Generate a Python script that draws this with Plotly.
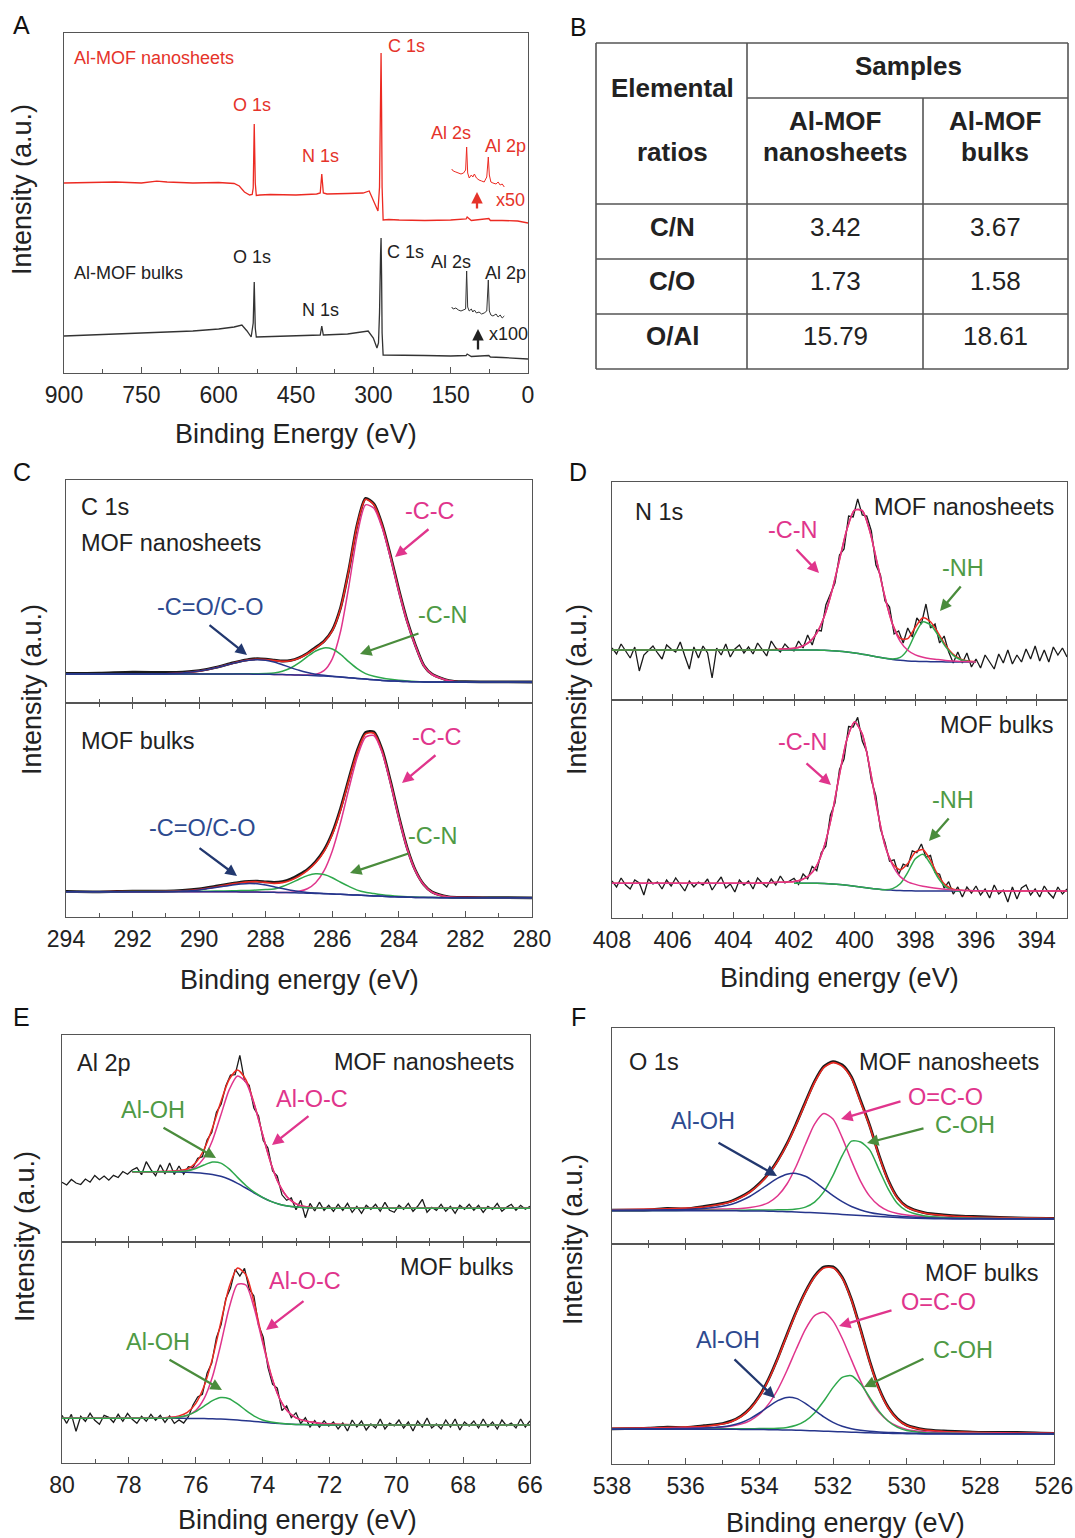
import numpy as np
import plotly.graph_objects as go

W, H = 1075, 1538
FONT = "Liberation Sans, Arial, Helvetica, sans-serif"
AXC = "#555555"
BLK = "#1a1a1a"
RED = "#ec2a22"
PINK = "#e0358c"
GRN = "#2ea84c"
NAVY = "#26358c"
GRN_T = "#4f9a45"
NAVY_T = "#2d4a8f"
GRN_A = "#4a8c3c"
NAVY_A = "#22386f"

# ---------------- Panel A : survey spectra ----------------
A_red_x = [900, 850, 800, 750, 720, 700, 650, 600, 570, 560, 550, 540, 535, 533, 531, 529, 527, 520, 500, 450,
           410, 403, 400, 397, 390, 350, 320, 308, 300, 295, 291, 288, 286, 285, 284, 283, 281, 270, 250, 200,
           150, 120, 118, 110, 76, 73, 50, 20, 0]
A_red_y = [190, 190.5, 191, 190, 191.8, 191, 190, 190.5, 189.5, 187, 181, 178, 178.5, 185, 249, 190, 177.5, 178, 178.5, 178,
           179, 180, 199, 180, 179, 179.5, 180, 182, 173, 166, 162, 186, 285, 320, 265, 186, 153, 153.5, 153, 152.5,
           153, 154, 156, 152.5, 154.5, 152.5, 152.5, 152, 150]
A_blk_x = [900, 850, 800, 750, 700, 650, 600, 570, 555, 545, 537, 533, 531, 529, 527, 500, 450, 410, 403, 400,
           397, 350, 320, 310, 300, 293, 290, 288, 286, 285, 284, 283, 281, 250, 200, 150, 120, 118, 110, 76,
           73, 50, 20, 0]
A_blk_y = [37, 38, 39, 40, 41, 42, 44, 46, 48, 42, 36, 50, 91, 45, 36, 36.5, 37, 37.5, 38, 47,
           38, 39, 41, 42, 35, 25, 30, 60, 118, 135, 98, 40, 18, 18, 17.5, 17, 17.5, 19, 16.5, 17.5,
           16, 15.5, 15, 14]
A_inset_x = [148, 145, 140, 135, 130, 125, 121, 119, 117, 114, 110, 107, 104, 100, 95, 90, 85, 80, 77, 75,
             72, 68, 62, 58, 54, 50, 46]
A_red_inset_y = [204, 202, 201, 200, 199, 200, 203, 226, 200, 195, 198, 196, 199, 195, 193, 192, 191, 196, 216, 198,
                 191, 190, 189, 191, 188, 189, 186]
A_blk_inset_y = [66, 64, 65, 63, 62, 63, 64, 102, 66, 62, 64, 61, 63, 60, 61, 59, 60, 62, 93, 62,
                 58, 57, 59, 56, 58, 55, 57]

# ---------------- Panel B : table ----------------
B_ratios = ["C/N", "C/O", "O/Al"]
B_nanosheets = ["3.42", "1.73", "15.79"]
B_bulks = ["3.67", "1.58", "18.61"]

# ---------------- Panel C : C 1s ----------------
C_ev = [294, 293, 292, 291, 290.5, 290, 289.5, 289, 288.75, 288.5, 288.25, 288, 287.75, 287.5, 287.25, 287,
        286.75, 286.5, 286.25, 286, 285.75, 285.5, 285.25, 285, 284.75, 284.5, 284.25, 284, 283.75, 283.5,
        283.25, 283, 282.5, 282, 281, 280]
C_nano_base = [29, 29, 29, 29, 29, 29, 29, 29, 29, 28.9, 28.8, 28.7, 28.6, 28.4, 28.2, 28, 27.7, 27.3, 26.9, 26.4,
               25.9, 25.3, 24.6, 23.9, 23.2, 22.6, 22.1, 21.7, 21.4, 21.2, 21.1, 21, 21, 21, 21, 21]
C_nano_co = [0, 0, 0, 0.3, 1.0, 2.9, 6.2, 10.5, 12.5, 13.9, 14.5, 14.05, 12.4, 9.9, 7.2, 4.7, 2.8, 1.5, 0.74, 0.33,
             0.13, 0.05, 0, 0, 0, 0, 0, 0, 0, 0, 0, 0, 0, 0, 0, 0]
C_nano_cn = [0, 0, 0, 0, 0, 0, 0, 0.1, 0.2, 0.3, 0.5, 0.8, 1.4, 3.3, 6.8, 12.1, 18.6, 24.7, 28.2, 27.6,
             22.8, 15.8, 9.8, 5.5, 3.5, 2.4, 1.6, 1.0, 0.6, 0.3, 0.1, 0, 0, 0, 0, 0]
C_nano_cc = [0, 0, 0, 0, 0, 0, 0, 0, 0, 0, 0, 0, 0, 0, 0, 0, 0.2, 1.3, 5.4, 17.8,
             45.8, 91.9, 143.4, 174.3, 171.6, 152.3, 122.7, 89.5, 59.3, 35.5, 16, 7.5, 1.3, 0.1, 0, 0]
C_nano_data = [29.5, 29.8, 30.8, 30.6, 30.9, 32.4, 35.6, 40.1, 41.9, 43.6, 44.3, 43.8, 42.9, 42.0, 42.6, 45.3,
               49.6, 55.5, 61.8, 72.9, 95.4, 133.8, 178.6, 204.6, 199.2, 178.1, 147.2, 113.1, 82.1, 57.6,
               37.6, 28.8, 22.5, 21.3, 21.2, 21.0]
C_bulk_base = [25.3, 25.3, 25.3, 25.3, 25.3, 25.3, 25.3, 25.2, 25.1, 25, 24.9, 24.8, 24.65, 24.5, 24.3, 24.1,
               23.85, 23.6, 23.3, 23, 22.65, 22.3, 21.9, 21.5, 21.1, 20.7, 20.35, 20, 19.8, 19.6, 19.5, 19.4,
               19.3, 19.3, 19.3, 19.3]
C_bulk_co = [0, 0, 0, 0.1, 0.6, 1.8, 4.1, 6.9, 7.9, 8.5, 8.3, 7.2, 5.7, 3.9, 2.4, 1.4, 0.7, 0.35, 0.15, 0.05,
             0, 0, 0, 0, 0, 0, 0, 0, 0, 0, 0, 0, 0, 0, 0, 0]
C_bulk_cn = [0, 0, 0.1, 0.2, 0.3, 0.4, 0.6, 1.0, 1.3, 1.6, 2.1, 2.6, 3.3, 6.0, 9.6, 13.7, 17.5, 19.6, 19.1, 16.3,
             12.1, 8.3, 5, 3.2, 2.3, 1.6, 1.1, 0.8, 0.5, 0.3, 0.2, 0.1, 0, 0, 0, 0]
C_bulk_cc = [0, 0, 0, 0, 0, 0, 0, 0, 0, 0, 0, 0, 0, 0, 0.5, 1.6, 4.4, 10.7, 22.8, 43.1,
             72.1, 106.2, 138, 158.4, 160.4, 143.4, 113, 78.7, 48.3, 26.2, 12.5, 5.3, 0.7, 0.1, 0, 0]
C_bulk_data = [25.6, 25.2, 25.9, 25.8, 26.6, 28.2, 30.8, 33.6, 34.9, 35.6, 35.9, 35.2, 34.6, 35.5, 38.0, 42.3,
               47.5, 55.4, 66.8, 84.0, 108.6, 138.4, 166.5, 184.6, 185.0, 167.0, 135.6, 100.4, 69.2, 46.5,
               32.4, 25.0, 20.2, 19.6, 19.4, 19.2]

# ---------------- Panel D : N 1s ----------------
D_ev = [408, 407, 406, 405, 404, 403, 402.5, 402, 401.75, 401.5, 401.25, 401, 400.75, 400.5, 400.25, 400,
        399.75, 399.5, 399.25, 399, 398.75, 398.5, 398.25, 398, 397.75, 397.5, 397.25, 397, 396.75, 396.5,
        396.25, 396, 395, 394, 393]
D_nano_base = [50, 50, 50, 50, 50, 50, 50, 50, 50, 50, 49.9, 49.7, 49.3, 48.8, 48, 47, 45.8, 44.5, 43.1, 41.8,
               40.6, 39.7, 39.1, 38.7, 38.5, 38.3, 38.2, 38.1, 38.05, 38, 38, 38, None, None, None]
D_nano_cn = [None, None, None, None, None, None, 0.8, 1.7, 3.5, 7.8, 17, 34, 59.7, 91.5, 123.2, 143.1,
             143.5, 124.2, 92.9, 60.9, 34.9, 19, 10.7, 6.4, 4.2, 3, 2.2, 1.5, 1.0, 0.6, 0.3, 0.1, None, None, None]
D_nano_nh = [0, 0, 0, 0, 0, 0, 0, 0, 0, 0, 0, 0, 0, 0, 0, 0, 0, 0, 0, 0,
             0.4, 2.9, 11.6, 27.7, 39.6, 36.9, 26.7, 15, 6.6, 2.2, 0.6, 0.15, None, None, None]
D_nano_data = [52, 46, 56, 49, 42, 53, 29, 45, 50, 54, 47, 41, 55, 51, 48, 58, 44, 31, 53, 42,
               54, 47, 22, 52, 45, 56, 43, 51, 55, 47, 53, 46, 57, 50, 44, 59, 52, 48, 56, 51,
               49, 59, 52, 65, 55, 70, 69, 95, 107, 117, 145, 151, 184, 183, 201, 185, 184, 169, 135, 125,
               99, 93, 66, 69, 57, 72, 63, 82, 76, 96, 72, 76, 57, 64, 48, 37, 48, 37, 47, 33,
               41, 32, 45, 38, 31, 46, 37, 50, 36, 45, 38, 51, 41, 54, 39, 50, 38, 53, 45, 52, 43]
D_bulk_base = [34.7, 34.7, 34.7, 34.7, 34.7, 34.7, 34.7, 34.7, 34.7, 34.7, 34.65, 34.4, 34.0, 33.5, 32.7, 31.8,
               30.8, 29.8, 28.9, 28.2, 27.8, 27.4, 27.2, 27.1, 27, 27, 27, 27, 27, 27, 27, 27, 27, 27, 27]
D_bulk_cn = [0, 0, 0, 0, 0, 0.3, 1, 1.9, 3.6, 7.8, 17.8, 37.6, 69.2, 110, 146.6, 164.3, 153.2, 120, 78.8, 44.3,
             25, 14, 9, 6.5, 4.8, 3.5, 2.5, 1.7, 1.1, 0.7, 0.4, 0.2, 0, 0, 0]
D_bulk_nh = [None, None, None, None, None, None, None, 0, 0, 0, 0, 0, 0, 0, 0, 0, 0, 0, 0, 0,
             1.6, 6.8, 18.4, 32.2, 36.7, 27.1, 13.1, 4.1, 0.8, 0.1, None, None, None, None, None]
D_bulk_data = [37, 31, 40, 33, 29, 38, 35, 23, 39, 34, 36, 29, 38, 32, 40, 34, 27, 37, 31, 36,
               33, 39, 28, 35, 41, 30, 34, 26, 38, 33, 37, 29, 40, 35, 31, 39, 33, 42, 35, 37,
               39.6, 33.5, 44, 39.3, 51.6, 47.3, 65.4, 71.8, 103, 114.8, 148.5, 159, 191.5, 191, 200.6, 177, 166.2,
               137.7, 122.2, 88.8, 75.5, 56.8, 58.1, 43.5, 53.8, 51.6, 67.1, 65.3, 74, 60.7,
               62.6, 45.4, 43.8, 29.8, 36.3, 23.9, 31.1, 21, 31, 25, 32, 23, 29, 20, 33, 24, 28, 16, 31, 19,
               30, 33, 23, 29, 21, 32, 25, 20, 31, 24, 29]

# ---------------- Panel E : Al 2p ----------------
E_ev = [80, 79, 77.9, 77.5, 77, 76.75, 76.5, 76.25, 76, 75.75, 75.5, 75.25, 75, 74.75, 74.5, 74.25, 74, 73.75,
        73.5, 73.25, 73, 72.75, 72.5, 72.25, 72, 71, 70, 69, 68, 67, 66]
E_nano_base = [None, None, 70.3, 70.3, 70.2, 70.1, 70, 69.7, 69.3, 68.6, 67.5, 65.7, 62.7, 58.7, 54, 49, 44.5,
               40.6, 37.8, 36, 35, 34.4, 34, 33.8, 33.7, 33.7, 33.7, 33.7, 33.7, 33.7, 33.7]
E_nano_oh = [None, None, 0, 0, 0.1, 0.2, 0.4, 1.5, 4.2, 8.4, 12.4, 13.2, 10.4, 5.9, 2.5, 0.8, 0.2,
             0, 0, 0, 0, 0, 0, 0, 0, 0, 0, 0, 0, 0, 0]
E_nano_oc = [None, None, 0, 0, 0.2, 0.5, 1.0, 1.8, 5.8, 15.5, 34, 61, 89.4, 107.3, 105.8, 88.5, 63, 38,
             19.5, 8.5, 3.2, 1.0, 0.3, 0.1, 0, 0, 0, 0, 0, 0, 0]
E_nano_data = [59.7, 57, 62.5, 59, 57.5, 63, 59.8, 66.5, 62.3, 66, 61.8, 66.6, 64.5, 70.5, 67.8, 72,
               74.3, 67.3, 80.3, 72.3, 66.3, 77.2, 68.1, 79.1, 67.5, 76, 67.8, 75.3,
               74.4, 83.7, 85.3, 102, 109.6, 129.8, 137.8, 156, 166.8, 167.3,
               186.7, 161.2, 156.6, 134, 126, 101.4, 94, 71, 66, 47.2,
               41.7, 44, 32.2, 41.6, 24.3, 38.6, 31, 39.8, 31.7, 36.7,
               30.7, 37.7, 31.7, 38.7, 29.7, 35.7, 28.7, 36.7, 32.7, 37.7, 30.7, 39.7, 31.7, 29.7, 36.7, 32.7,
               38.7, 30.7, 35.7, 42.7, 29.7, 34.7, 31.7, 37.7, 30.7, 35.7, 28.7, 36.7, 32.7, 37.7, 31.7, 36.7,
               29.7, 35.7, 32.7, 38.7, 30.7, 34.7, 37.7, 31.7, 36.7, 32.7, 35.7]
E_bulk_base = [44.7, 44.7, 44.7, 44.7, 44.7, 44.7, 44.7, 44.6, 44.5, 44.4, 44.2, 43.9, 43.5, 42.9, 42.3, 41.6,
               40.8, 40.1, 39.5, 39, 38.6, 38.4, 38.2, 38.1, 38, 38, 38, 38, 38, 38, 38]
E_bulk_oh = [0, 0, 0, 0, 0.1, 0.3, 1.1, 3.1, 6.9, 12.4, 18.2, 21.6, 20.8, 16.2, 10.3, 5.3, 2.2, 0.8, 0.2,
             0, 0, 0, 0, 0, 0, 0, 0, 0, 0, 0, 0]
E_bulk_oc = [0, 0, 0, 0, 0.3, 0.7, 1.3, 3, 8, 19.9, 42, 74.8, 111.5, 135.8, 135.7, 113.1, 79.8, 48, 25.5,
             12.7, 6.6, 4, 2.5, 1.5, 0.9, 0.1, 0, 0, 0, 0, 0]
E_bulk_data = [47.7, 39.7, 48.7, 31.7, 46.7, 41.7, 49.7, 42.7, 38.7, 47.7, 45.7, 40.7, 48.7, 41.7, 49.7, 43.7,
               39.7, 46.7, 41.7, 48.7, 42.7, 47.7, 40.7, 47, 39.6,
               43.1, 40, 46.3, 58, 66, 68.6, 89.8, 100, 125.3, 138.5,
               164.3, 174.7, 193.7, 186.9, 194.7, 173.8, 167, 137.7, 125.9, 95.6,
               78.6, 75, 52.4, 57.1, 45.4, 50.2, 39.5, 45.2, 36.1, 42.4, 35.8, 42.2, 36.9,
               41, 34, 40, 32, 43, 36, 42, 33, 39, 35, 44, 34, 40, 37, 43, 35, 41, 32, 42, 36,
               45, 35, 39, 34, 43, 36, 44, 33, 41, 37, 42, 35, 44, 36, 41, 34, 43, 37, 40, 35, 44, 36, 42]

# ---------------- Panel F : O 1s ----------------
F_ev = [538, 537, 536.5, 536, 535.5, 535, 534.75, 534.5, 534.25, 534, 533.75, 533.5, 533.25, 533, 532.75,
        532.5, 532.25, 532, 531.75, 531.5, 531.25, 531, 530.75, 530.5, 530.25, 530, 529.5, 529, 528.5, 528,
        527, 526]
F_nano_base = [33.3, 33.3, 33.3, 33.3, 33.3, 33.3, 33.2, 33.1, 33.05, 33, 32.8, 32.6, 32.3, 32, 31.6, 31.2,
               30.7, 30.2, 29.6, 29, 28.4, 27.9, 27.4, 26.9, 26.5, 26.1, 25.5, 25.2, 25, 25, 25, 25]
F_nano_aloh = [0.45, 0.7, 0.9, 1.27, 2.1, 4.4, 6.6, 10.1, 14.7, 20.6, 27.1, 33.2, 37.5, 38.6, 36.1, 30.9,
               24.5, 18.1, 12.7, 8.5, 5.6, 3.7, 2.5, 1.9, 1.4, 1.1, 0.85, 0.66, 0.5, 0.4, 0.25, 0.2]
F_nano_oco = [0.4, 0.6, 0.74, 0.94, 1.23, 1.7, 2.0, 2.5, 3.4, 5.1, 8.6, 15.6, 27.7, 45.8, 67.9, 88.7,
              99.7, 94.7, 76.8, 54.4, 34.3, 19.7, 10.9, 6.2, 3.9, 2.8, 1.8, 1.3, 1.0, 0.77, 0.5, 0.36]
F_nano_coh = [0.17, 0.23, 0.28, 0.34, 0.43, 0.55, 0.63, 0.73, 0.86, 1.02, 1.23, 1.54, 2.0, 3.0, 5.3, 10.7,
              21.4, 38.4, 58.8, 73.9, 73.6, 66, 47, 28, 14, 7, 2.6, 1.4, 0.9, 0.65, 0.38, 0.25]
F_nano_data = [33.8, 34.2, 35.6, 35.1, 37.6, 40.6, 43.0, 47.2, 52.6, 60.5, 70.4, 83.8, 100.4, 120.3, 141.9,
               162.6, 177.4, 182.4, 179.0, 167.0, 143.2, 118.0, 88.6, 63.8, 46.5, 37.5, 31.2, 29.1, 27.9,
               27.4, 26.0, 25.5]
F_bulk_base = [34.7, 34.7, 34.7, 34.7, 34.7, 34.7, 34.65, 34.6, 34.55, 34.5, 34.35, 34.2, 34, 33.8, 33.5, 33.2,
               32.85, 32.5, 32.15, 31.8, 31.5, 31.2, 30.95, 30.7, 30.5, 30.3, 30.1, 30, 30, 30, 30, 30]
F_bulk_aloh = [0.29, 0.45, 0.58, 0.8, 1.2, 2.5, 4.1, 6.7, 10.9, 16.5, 23.1, 29.1, 32.6, 31.8, 27.1, 20.7,
               14.3, 9.2, 5.6, 3.4, 2.2, 1.5, 1.1, 0.9, 0.75, 0.64, 0.49, 0.38, 0.3, 0.25, 0.18, 0.13]
F_bulk_oco = [0.48, 0.7, 0.87, 1.1, 1.5, 2.3, 3.3, 5.3, 8.9, 15.2, 25.5, 40.3, 59.5, 80.9, 101.2, 115.2,
              118.8, 110.6, 93.6, 72.3, 51.4, 33.8, 20.8, 12.3, 7.2, 4.3, 2.1, 1.4, 1.05, 0.83, 0.56, 0.4]
F_bulk_coh = [0.13, 0.19, 0.23, 0.28, 0.35, 0.46, 0.53, 0.62, 0.74, 0.88, 1.13, 1.6, 2.6, 4.9, 9.6, 17.9,
              30.1, 43.9, 54.5, 56.4, 48.4, 35.1, 21.9, 12.1, 6.2, 3.2, 1.25, 0.78, 0.56, 0.42, 0.26, 0.18]
F_bulk_data = [35.2, 35.8, 36.9, 36.4, 38.3, 40.5, 43.1, 47.9, 55.8, 67.9, 84.9, 106.0, 129.6, 152.3, 172.2,
               187.9, 197.0, 197.1, 186.8, 164.8, 134.4, 102.4, 75.5, 56.8, 45.3, 38.9, 34.3, 33.0, 32.4,
               31.6, 31.6, 30.5]


# =====================================================================
def a(v):
    return np.array(v, dtype=float)


def z(v):
    return np.nan_to_num(a(v))


def fx(p):
    return p / W


def fy(p):
    return 1 - p / H


fig = go.Figure()


def tr(x, y, i, color, width, spline=False):
    sfx = "" if i == 1 else str(i)
    line = dict(color=color, width=width)
    if spline:
        line["shape"] = "spline"
        line["smoothing"] = 0.7
    fig.add_trace(go.Scatter(x=a(x), y=a(y), mode="lines", line=line,
                             xaxis="x" + sfx, yaxis="y" + sfx,
                             hoverinfo="skip", showlegend=False))


# ---- A
tr(A_red_x, A_red_y, 1, RED, 1.3)
tr(A_inset_x, A_red_inset_y, 1, RED, 1.0)
tr(A_blk_x, A_blk_y, 1, "#333333", 1.3)
tr(A_inset_x, A_blk_inset_y, 1, "#333333", 1.0)

# ---- C
for i, (b, co, cn, cc, d) in zip([2, 3], [
        (C_nano_base, C_nano_co, C_nano_cn, C_nano_cc, C_nano_data),
        (C_bulk_base, C_bulk_co, C_bulk_cn, C_bulk_cc, C_bulk_data)]):
    tr(C_ev, d, i, BLK, 2.8, True)
    tr(C_ev, a(b) + a(co) + a(cn) + a(cc), i, RED, 1.6, True)
    tr(C_ev, a(b) + a(cc), i, PINK, 1.5, True)
    tr(C_ev, a(b) + a(cn), i, GRN, 1.5, True)
    tr(C_ev, a(b) + a(co), i, NAVY, 1.5, True)
    tr(C_ev, b, i, NAVY, 1.5, True)

# ---- D
D_grid = np.linspace(408, 393, len(D_nano_data))
tr(D_grid, D_nano_data, 4, BLK, 1.3)
tr(D_ev, D_nano_base, 4, NAVY, 1.5, True)
tr(D_ev, a(D_nano_base) + z(D_nano_cn) + a(D_nano_nh), 4, RED, 1.5, True)
tr(D_ev, a(D_nano_base) + a(D_nano_nh), 4, GRN, 1.5, True)
tr(D_ev, a(D_nano_base) + a(D_nano_cn), 4, PINK, 1.5, True)

D_grid2 = np.linspace(408, 393, len(D_bulk_data))
tr(D_grid2, D_bulk_data, 5, BLK, 1.3)
tr(D_ev, np.where(np.isnan(a(D_bulk_nh)), np.nan, a(D_bulk_base)), 5, NAVY, 1.5, True)
tr(D_ev, a(D_bulk_base) + a(D_bulk_cn) + z(D_bulk_nh), 5, RED, 1.5, True)
tr(D_ev, a(D_bulk_base) + a(D_bulk_nh), 5, GRN, 1.5, True)
tr(D_ev, a(D_bulk_base) + a(D_bulk_cn), 5, PINK, 1.5, True)

# ---- E
for i, (b, oh, oc, d) in zip([6, 7], [
        (E_nano_base, E_nano_oh, E_nano_oc, E_nano_data),
        (E_bulk_base, E_bulk_oh, E_bulk_oc, E_bulk_data)]):
    g = np.linspace(80, 66, len(d))
    tr(g, d, i, BLK, 1.3)
    tr(E_ev, b, i, NAVY, 1.5, True)
    tr(E_ev, a(b) + a(oh) + a(oc), i, RED, 1.5, True)
    tr(E_ev, a(b) + a(oc), i, PINK, 1.5, True)
    tr(E_ev, a(b) + a(oh), i, GRN, 1.5, True)

# ---- F
for i, (b, al, oco, coh, d) in zip([8, 9], [
        (F_nano_base, F_nano_aloh, F_nano_oco, F_nano_coh, F_nano_data),
        (F_bulk_base, F_bulk_aloh, F_bulk_oco, F_bulk_coh, F_bulk_data)]):
    tr(F_ev, d, i, BLK, 2.8, True)
    tr(F_ev, a(b) + a(al) + a(oco) + a(coh), i, RED, 1.6, True)
    tr(F_ev, a(b) + a(oco), i, PINK, 1.5, True)
    tr(F_ev, a(b) + a(coh), i, GRN, 1.5, True)
    tr(F_ev, a(b) + a(al), i, NAVY, 1.5, True)
    tr(F_ev, b, i, NAVY, 1.5, True)

# =====================================================================
layout = dict(width=W, height=H, margin=dict(l=0, r=0, t=0, b=0, pad=0, autoexpand=False), autosize=False,
              paper_bgcolor="white", plot_bgcolor="white", showlegend=False,
              font=dict(family=FONT, color="#222222"))


def axes(i, x0, x1, top, bot, rng, dtick, mdtick, labels, mirror):
    sfx = "" if i == 1 else str(i)
    layout["xaxis" + sfx] = dict(
        domain=[fx(x0), fx(x1)], range=rng, anchor="y" + sfx,
        showline=True, linecolor=AXC, linewidth=1.4, mirror=mirror,
        ticks="inside", ticklen=6, tickwidth=1.3, tickcolor=AXC,
        tick0=0, dtick=dtick, showticklabels=labels, ticklabelstandoff=1,
        tickfont=dict(size=23, color="#222222", family=FONT),
        showgrid=False, zeroline=False, automargin=False,
        minor=dict(dtick=mdtick, ticks="inside", ticklen=4, tickwidth=1.2, tickcolor=AXC, showgrid=False))
    layout["yaxis" + sfx] = dict(
        domain=[fy(bot), fy(top)], range=[0, bot - top], anchor="x" + sfx,
        showline=True, linecolor=AXC, linewidth=1.4, mirror=True, automargin=False,
        ticks="", showticklabels=False, showgrid=False, zeroline=False)


axes(1, 64, 528, 33, 373, [900, 0], 150, 75, True, True)
axes(2, 66, 532, 480, 703, [294, 280], 2, 1, False, True)
axes(3, 66, 532, 703, 917, [294, 280], 2, 1, True, "ticks")
axes(4, 612, 1067, 482, 700, [408, 393], 2, 1, False, True)
axes(5, 612, 1067, 700, 918, [408, 393], 2, 1, True, "ticks")
axes(6, 62, 530, 1035, 1242, [80, 66], 2, 1, False, True)
axes(7, 62, 530, 1242, 1463, [80, 66], 2, 1, True, "ticks")
axes(8, 612, 1054, 1028, 1244, [538, 526], 2, 1, False, True)
axes(9, 612, 1054, 1244, 1464, [538, 526], 2, 1, True, "ticks")

ann = []


def txt(x, y, s, size=23.5, color="#222222", xa="center", angle=0):
    ann.append(dict(x=fx(x), y=fy(y), xref="paper", yref="paper", text=s, showarrow=False,
                    xanchor=xa, yanchor="middle", textangle=angle,
                    font=dict(size=size, color=color, family=FONT)))


def arrow(x0, y0, x1, y1, color):
    ann.append(dict(x=fx(x1), y=fy(y1), xref="paper", yref="paper", text="",
                    showarrow=True, axref="pixel", ayref="pixel", ax=x0 - x1, ay=y0 - y1,
                    arrowhead=2, arrowsize=1.0, arrowwidth=2.3, arrowcolor=color))


L = 23.5  # in-panel label size

# panel letters
for s, x, y in [("A", 22, 25), ("B", 578, 27), ("C", 22, 472), ("D", 578, 472), ("E", 22, 1017), ("F", 578, 1017)]:
    txt(x, y, s, size=25, color="#111111")

# axis titles
for x, y in [(22, 190), (32, 690), (577, 690), (25, 1237), (573, 1240)]:
    txt(x, y, "Intensity (a.u.)", size=27, angle=-90)
txt(296, 434, "Binding Energy (eV)", size=27)
txt(299, 980, "Binding energy (eV)", size=27)
txt(839, 978, "Binding energy (eV)", size=27)
txt(297, 1520, "Binding energy (eV)", size=27)
txt(845, 1523, "Binding energy (eV)", size=27)

# panel A labels
ARED = "#e5332a"
txt(72, 58, "Al-MOF nanosheets", 18, ARED, "left")
txt(252, 105, "O 1s", 18, ARED)
txt(320, 156, "N 1s", 18, ARED)
txt(406, 46, "C 1s", 18, ARED)
txt(451, 133, "Al 2s", 18, ARED)
txt(505, 146, "Al 2p", 18, ARED)
txt(510, 200, "x50", 18, ARED)
arrow(477, 210, 477, 192, ARED)
txt(72, 273, "Al-MOF bulks", 18, "#222222", "left")
txt(252, 257, "O 1s", 18)
txt(320, 310, "N 1s", 18)
txt(405, 252, "C 1s", 18)
txt(451, 262, "Al 2s", 18)
txt(505, 273, "Al 2p", 18)
txt(508, 334, "x100", 18)
arrow(478, 351, 478, 329, "#222222")

# panel C labels
txt(79, 507, "C 1s", L, xa="left")
txt(79, 543, "MOF nanosheets", L, xa="left")
txt(430, 511, "-C-C", L, PINK)
arrow(430, 528, 395, 557, PINK)
txt(443, 615, "-C-N", L, GRN_T)
arrow(420, 633, 360, 654, GRN_A)
txt(210, 607, "-C=O/C-O", L, NAVY_T)
arrow(208, 624, 247, 655, NAVY_A)
txt(79, 741, "MOF bulks", L, xa="left")
txt(437, 737, "-C-C", L, PINK)
arrow(437, 754, 402, 783, PINK)
txt(433, 836, "-C-N", L, GRN_T)
arrow(410, 853, 350, 873, GRN_A)
txt(202, 828, "-C=O/C-O", L, NAVY_T)
arrow(198, 847, 237, 876, NAVY_A)

# panel D labels
txt(633, 512, "N 1s", L, xa="left")
txt(1056, 507, "MOF nanosheets", L, xa="right")
txt(793, 530, "-C-N", L, PINK)
arrow(795, 548, 819, 573, PINK)
txt(963, 568, "-NH", L, GRN_T)
arrow(962, 585, 940, 611, GRN_A)
txt(1056, 725, "MOF bulks", L, xa="right")
txt(803, 742, "-C-N", L, PINK)
arrow(805, 762, 831, 785, PINK)
txt(953, 800, "-NH", L, GRN_T)
arrow(950, 817, 929, 841, GRN_A)

# panel E labels
txt(75, 1063, "Al 2p", L, xa="left")
txt(516, 1062, "MOF nanosheets", L, xa="right")
txt(153, 1110, "Al-OH", L, GRN_T)
arrow(162, 1127, 216, 1158, GRN_A)
txt(312, 1099, "Al-O-C", L, PINK)
arrow(310, 1115, 272, 1145, PINK)
txt(516, 1267, "MOF bulks", L, xa="right")
txt(305, 1281, "Al-O-C", L, PINK)
arrow(305, 1300, 266, 1330, PINK)
txt(158, 1342, "Al-OH", L, GRN_T)
arrow(168, 1359, 222, 1390, GRN_A)

# panel F labels
txt(627, 1062, "O 1s", L, xa="left")
txt(1041, 1062, "MOF nanosheets", L, xa="right")
txt(703, 1121, "Al-OH", L, NAVY_T)
arrow(717, 1142, 777, 1176, NAVY_A)
txt(945, 1097, "O=C-O", L, PINK)
arrow(902, 1101, 841, 1119, PINK)
txt(965, 1125, "C-OH", L, GRN_T)
arrow(925, 1128, 867, 1143, GRN_A)
txt(1041, 1273, "MOF bulks", L, xa="right")
txt(938, 1302, "O=C-O", L, PINK)
arrow(893, 1310, 839, 1326, PINK)
txt(728, 1340, "Al-OH", L, NAVY_T)
arrow(733, 1358, 775, 1398, NAVY_A)
txt(963, 1350, "C-OH", L, GRN_T)
arrow(925, 1358, 864, 1387, GRN_A)

# panel B table
TL = "#555555"
shapes = []


def hline(x0, x1, y):
    shapes.append(dict(type="line", xref="paper", yref="paper", x0=fx(x0), x1=fx(x1), y0=fy(y), y1=fy(y),
                       line=dict(color=TL, width=1.6)))


def vline(x, y0, y1):
    shapes.append(dict(type="line", xref="paper", yref="paper", x0=fx(x), x1=fx(x), y0=fy(y0), y1=fy(y1),
                       line=dict(color=TL, width=1.6)))


hline(596, 1068, 43)
hline(596, 1068, 369)
vline(596, 43, 369)
vline(1068, 43, 369)
hline(747, 1068, 98)
hline(596, 1068, 204)
hline(596, 1068, 259)
hline(596, 1068, 314)
vline(747, 43, 369)
vline(923, 98, 369)

T = 26
txt(672, 88, "<b>Elemental</b>", T)
txt(672, 152, "<b>ratios</b>", T)
txt(908, 66, "<b>Samples</b>", T)
txt(835, 121, "<b>Al-MOF</b>", T)
txt(835, 152, "<b>nanosheets</b>", T)
txt(995, 121, "<b>Al-MOF</b>", T)
txt(995, 152, "<b>bulks</b>", T)
for r, y in zip(range(3), [227, 281, 336]):
    txt(672, y, "<b>" + B_ratios[r] + "</b>", T)
    txt(835, y, B_nanosheets[r], T)
    txt(995, y, B_bulks[r], T)

layout["annotations"] = ann
layout["shapes"] = shapes
fig.update_layout(**layout)
fig.write_html("out.html")
